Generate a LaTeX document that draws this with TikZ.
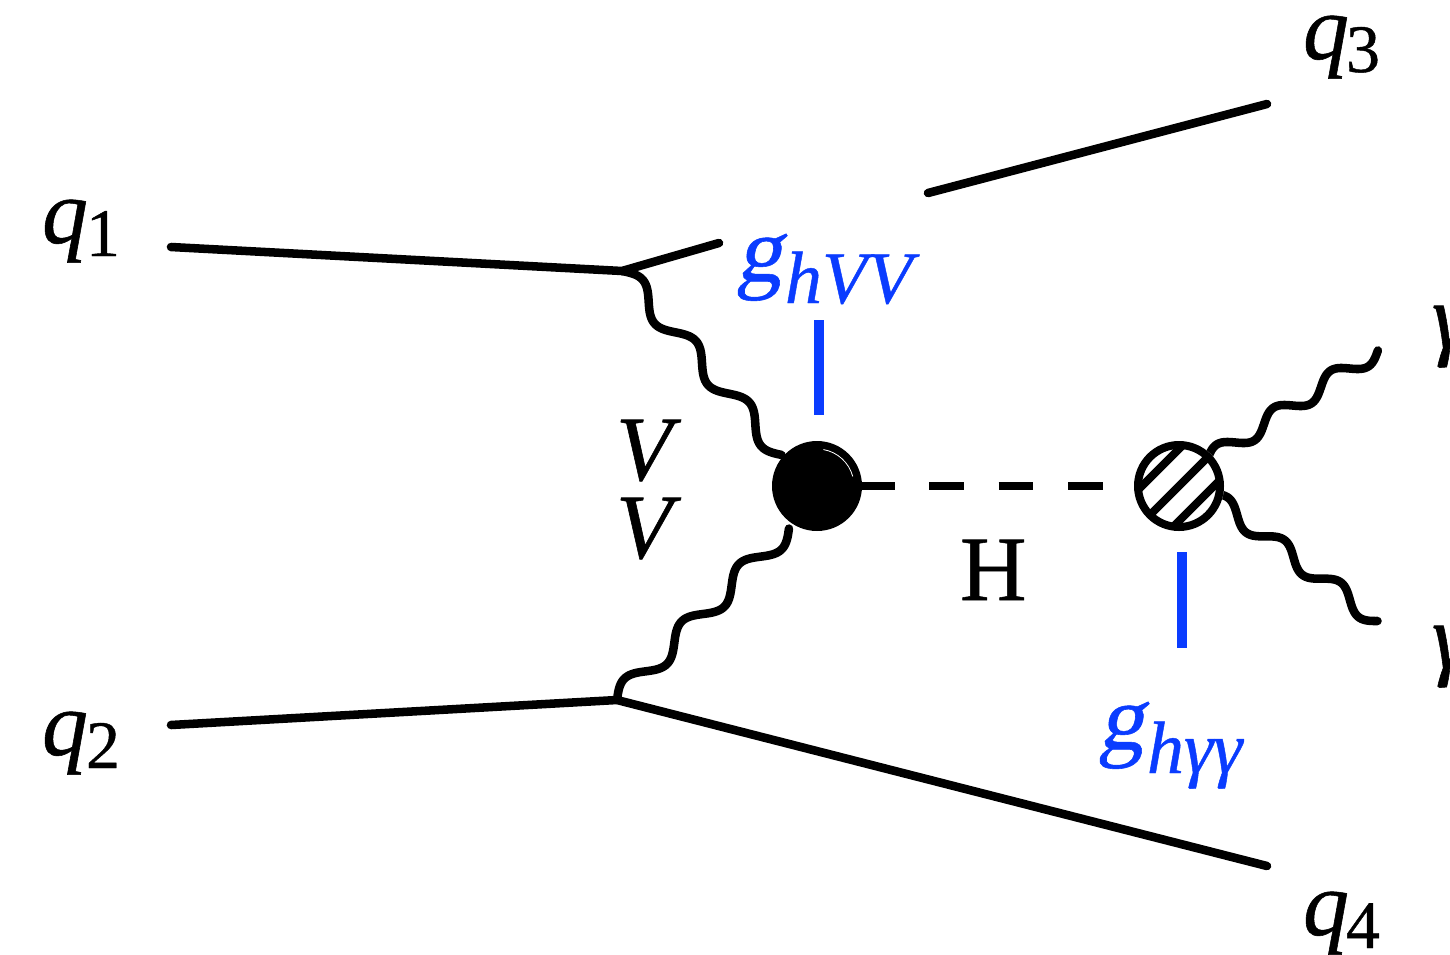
\documentclass[tikz,border=0pt]{standalone}
\usepackage{fontspec}
\usetikzlibrary{calc}
\setmainfont{Liberation Serif}[FakeBold=0.6]
\newfontfamily\gfont{Liberation Serif}[FakeSlant=0.2,FakeBold=0.6]
\definecolor{cblue}{HTML}{0A3CFF}
\newcommand{\bigf}{\fontsize{69}{72}\selectfont}
\newcommand{\subf}{\fontsize{55.5}{58}\selectfont}
\newcommand{\digf}{\fontsize{51}{54}\selectfont}
% sine-wave connector: from, to, amplitude (pt), number of periods
\newcommand{\wave}[4]{%
  \draw[boson] let \p1=(#1),\p2=(#2),\n1={veclen(\x2-\x1,\y2-\y1)} in
    plot[variable=\t,domain=0:1,samples=150]
    ({\x1+\t*(\x2-\x1)-#3*sin(360*#4*\t)*(\y2-\y1)/\n1},
     {\y1+\t*(\y2-\y1)+#3*sin(360*#4*\t)*(\x2-\x1)/\n1});}
\tikzset{
  fermion/.style={line width=6.4pt,line cap=round},
  boson/.style={line width=6.4pt,line cap=round,line join=round},
  higgs/.style={line width=6.4pt,dash pattern=on 26pt off 26pt,line cap=butt},
  hatchline/.style={line width=6pt},
  bar/.style={line width=8.2pt,cblue},
  lab/.style={anchor=base west,inner sep=0pt,outer sep=0pt,font=\bigf\itshape},
  sublab/.style={anchor=base west,inner sep=0pt,outer sep=0pt,font=\subf\itshape},
  diglab/.style={anchor=base west,inner sep=0pt,outer sep=0pt,font=\digf\upshape},
  blue lab/.style={text=cblue}
}
\begin{document}
\begin{tikzpicture}[x=0.75pt,y=-0.75pt]
\useasboundingbox (0,0) rectangle (1450,954);
\clip (0,0) rectangle (1450,954);
% endpoints
\coordinate (q1) at (171,247);
\coordinate (q2) at (171,725);
\coordinate (q3) at (1267,104);
\coordinate (q4) at (1267,866);
\coordinate (v1) at (622,271);
\coordinate (v2) at (617,700);
\coordinate (q1end) at (719,243);
\coordinate (q3start) at (928,193);
\coordinate (blobin1) at (782,455);
\coordinate (blobin2) at (789,528);
\coordinate (a0) at (1207,461);
\coordinate (a1) at (1378,350);
\coordinate (c0) at (1209,494);
\coordinate (c1) at (1378,621);
\coordinate (hs) at (860,486);
\coordinate (he) at (1108,486);
\coordinate (b1a) at (819,320);
\coordinate (b1b) at (819,415);
\coordinate (b2a) at (1182,552);
\coordinate (b2b) at (1182,648);
% fermions
\draw[fermion] (q1) -- (v1) -- (q1end);
\draw[fermion] (q3start) -- (q3);
\draw[fermion] (q2) -- (v2) -- (q4);
% vector bosons
\wave{v1}{blobin1}{7.4}{3}
\wave{v2}{blobin2}{7.4}{3}
% photons
\wave{a0}{a1}{6.4}{3}
\wave{c0}{c1}{6.4}{3}
% higgs
\draw[higgs] (hs) -- (he);
% blobs
\node[circle,fill=black,draw=none,minimum size=67.5pt,inner sep=0pt] (blob) at (817,486) {};
\draw[white,line width=0.6pt] (blob.center) ++(-80:37) arc[start angle=-80,end angle=-15,radius=37];
\node[circle,fill=white,draw=none,minimum size=67.5pt,inner sep=0pt] (hatch) at (1179,486) {};
\begin{scope}
\clip (hatch.center) circle[radius=44];
\draw[hatchline] (1108,520) -- (1208,420);
\draw[hatchline] (1125,540) -- (1225,440);
\draw[hatchline] (1160,540) -- (1260,440);
\end{scope}
\draw[line width=6pt] (hatch.center) circle[radius=41];
% blue bars
\draw[bar] (b1a) -- (b1b);
\draw[bar] (b2a) -- (b2b);
% labels
\node[lab] (lq1) at (42,243) {q};
\node[diglab] (s1) at (86,256) {1};
\node[lab] (lq2) at (42,755) {q};
\node[diglab] (s2) at (86,768) {2};
\node[lab] (lq3) at (1303,59) {q};
\node[diglab] (s3) at (1346,72) {3};
\node[lab] (lq4) at (1303,935) {q};
\node[diglab] (s4) at (1346,948) {4};
\node[lab] (lv1) at (616,480) {V};
\node[lab] (lv2) at (616,558) {V};
\node[lab,font=\bigf\upshape] (lh) at (960,600) {H};
\node[lab,blue lab,font=\bigf\gfont] (lg1) at (736,281) {g};
\node[sublab,blue lab] (lg1s) at (785,303) {hVV};
\node[lab,blue lab,font=\bigf\gfont] (lg2) at (1098,749) {g};
\node[sublab,blue lab] (lg2s) at (1147,773) {hγγ};
\node[lab] (la1) at (1432,348) {γ};
\node[lab] (la2) at (1432,668) {γ};
\end{tikzpicture}
\end{document}
